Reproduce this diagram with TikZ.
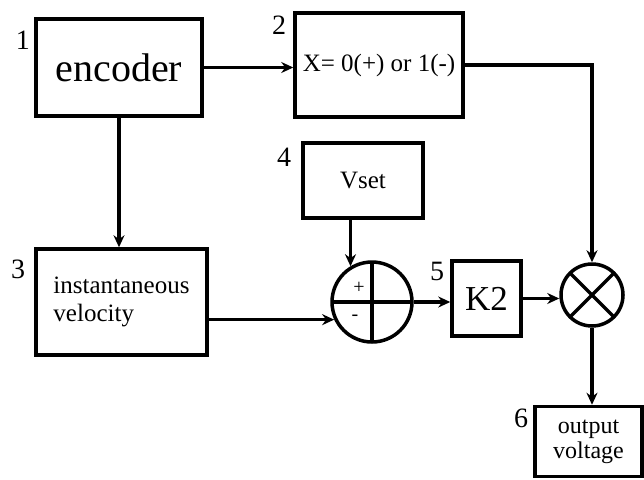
\documentclass[tikz,border=0pt]{standalone}
\usepackage{fontspec}
\setmainfont{Liberation Serif}
\usetikzlibrary{arrows.meta,positioning}

\begin{document}
\begin{tikzpicture}[x=1pt,y=-1pt,line width=3.5pt,
  blk/.style={draw,rectangle,inner sep=0pt},
  numlab/.style={font=\fontsize{28}{28}\selectfont},
  arr/.style={-{Stealth[length=12pt,width=11pt]}},
  sumpt/.style={draw,circle,inner sep=0pt,minimum size=80pt,
    path picture={\draw (path picture bounding box.north)--(path picture bounding box.south)
      (path picture bounding box.west)--(path picture bounding box.east);}},
  mulpt/.style={draw,circle,inner sep=0pt,minimum size=62pt,
    path picture={\draw (path picture bounding box.north east)--(path picture bounding box.south west)
      (path picture bounding box.north west)--(path picture bounding box.south east);}}]
 \useasboundingbox (0,0) rectangle (644,479);

 % blocks
 \node[blk,minimum width=166pt,minimum height=97pt,font=\fontsize{40}{44}\selectfont]
   (enc) at (119,67.5) {encoder};
 \node[blk,minimum width=168pt,minimum height=104pt,font=\fontsize{25}{28}\selectfont]
   (sgn) at (379,65) {X= 0(+) or 1(-)};
 \node[blk,minimum width=171pt,minimum height=106pt,align=left,font=\fontsize{25}{28}\selectfont]
   (vel) at (121.5,302) {instantaneous\\velocity};
 \node[blk,minimum width=120pt,minimum height=75pt,font=\fontsize{25}{28}\selectfont]
   (vset) at (363,180.5) {Vset};
 \node[sumpt] (sum) at (372,302) {};
 \node[font=\fontsize{20}{20}\selectfont] (plus) at (359,288) {+};
 \node[font=\fontsize{20}{20}\selectfont] (minus) at (355,318) {-};
 \node[blk,minimum width=69pt,minimum height=75pt,font=\fontsize{35}{38}\selectfont]
   (k2) at (486.5,298.5) {K2};
 \node[mulpt] (mul) at (592,295) {};
 \node[blk,minimum width=107pt,minimum height=70pt,align=center,font=\fontsize{24}{25}\selectfont]
   (out) at (588.5,441.5) {output\\voltage};

 % numbers
 \node[numlab] (n1) at (23,40) {1};
 \node[numlab] (n2) at (279,25) {2};
 \node[numlab] (n3) at (18,269) {3};
 \node[numlab] (n4) at (284,157) {4};
 \node[numlab] (n5) at (437,271) {5};
 \node[numlab] (n6) at (521,418) {6};

 % connectors
 \draw[arr] (enc.east) -- (enc.east -| sgn.west);
 \draw[arr] (sgn.east) -| (mul.north);
 \draw[arr] (enc.south) -- (enc.south |- vel.north);
 \draw[arr] (sum.121 |- vset.south) -- (sum.121);
 \draw[arr] (vel.east |- sum.205) -- (sum.205);
 \draw[arr] (sum.east) -- (sum.east -| k2.west);
 \draw[arr] (k2.east) -- (k2.east -| mul.west);
 \draw[arr] (mul.south) -- (mul.south |- out.north);
\end{tikzpicture}
\end{document}
